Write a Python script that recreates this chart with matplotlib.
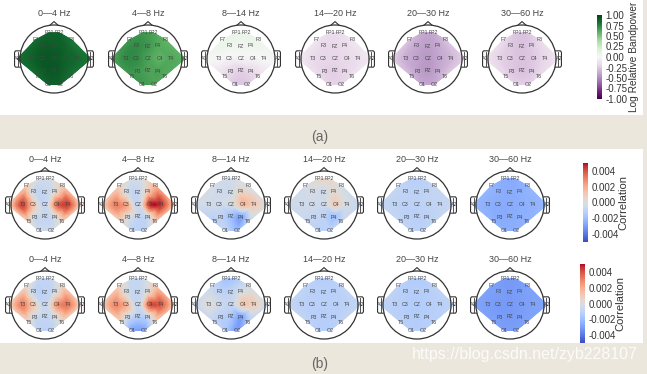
import numpy as np
import matplotlib.pyplot as plt
import matplotlib.tri as mtri
from matplotlib.patches import Rectangle, Circle

plt.rcParams['font.family'] = ['Liberation Sans', 'DejaVu Sans']

W, H = 647, 374

bands = ['0—4 Hz', '4—8 Hz', '8—14 Hz', '14—20 Hz', '20—30 Hz', '30—60 Hz']

ch_names = ['FP1', 'FP2', 'F7', 'F3', 'FZ', 'F4', 'F8', 'A1', 'T3', 'C3', 'CZ',
            'C4', 'T4', 'A2', 'T5', 'P3', 'PZ', 'P4', 'T6', 'O1', 'O2']
ch_x = [-0.15, 0.15, -0.55, -0.33, 0.0, 0.27, 0.53, -1.08, -0.66, -0.35, 0.0,
        0.35, 0.66, 1.08, -0.48, -0.31, 0.0, 0.29, 0.49, -0.17, 0.17]
ch_y = [0.77, 0.77, 0.56, 0.39, 0.38, 0.41, 0.56, 0.0, 0.0, 0.0, 0.0,
        0.0, 0.0, 0.0, -0.5, -0.37, -0.33, -0.37, -0.5, -0.75, -0.75]

# (a) log relative bandpower per band
bandpower = [
    [0.88, 0.88, 0.85, 0.9, 0.9, 0.88, 0.8, 0.82, 0.88, 0.92, 0.92,
     0.88, 0.85, 0.8, 0.85, 0.9, 0.92, 0.88, 0.82, 0.88, 0.88],
    [0.68, 0.64, 0.68, 0.72, 0.68, 0.62, 0.58, 0.62, 0.72, 0.72, 0.64,
     0.58, 0.62, 0.58, 0.68, 0.68, 0.64, 0.64, 0.62, 0.68, 0.64],
    [0.08, 0.08, 0.07, 0.05, 0.04, 0.05, 0.06, 0.02, 0.0, -0.03, -0.03,
     -0.03, 0.0, 0.02, -0.15, -0.17, -0.2, -0.17, -0.14, -0.25, -0.25],
    [-0.14, -0.14, -0.1, -0.16, -0.17, -0.14, -0.1, -0.07, -0.15, -0.18, -0.18,
     -0.16, -0.13, -0.07, -0.15, -0.2, -0.21, -0.18, -0.13, -0.2, -0.2],
    [-0.38, -0.38, -0.28, -0.38, -0.42, -0.38, -0.28, -0.2, -0.35, -0.4, -0.44,
     -0.38, -0.32, -0.2, -0.32, -0.4, -0.44, -0.38, -0.28, -0.38, -0.38],
    [-0.26, -0.26, -0.16, -0.24, -0.27, -0.24, -0.16, -0.08, -0.2, -0.24, -0.27,
     -0.24, -0.17, -0.08, -0.17, -0.24, -0.27, -0.24, -0.17, -0.21, -0.21],
]

# (b) correlation, first row
corr_top = [
    [-0.0003, -0.0003, 0.001, -0.0005, -0.0008, 0.0, 0.001, 0.0003, 0.0042, 0.0012, -0.0008,
     0.0035, 0.0042, 0.0003, 0.0005, -0.0005, -0.0008, -0.0003, 0.0005, -0.0005, -0.0005],
    [-0.0003, 0.0, 0.0008, -0.0003, -0.0008, 0.0008, 0.0018, 0.0005, 0.003, 0.0022, -0.0008,
     0.0045, 0.0045, 0.0008, 0.0005, 0.0, -0.0008, -0.0005, 0.0008, -0.001, -0.001],
    [-0.0005, -0.0003, -0.0003, -0.0005, -0.0005, 0.0005, -0.0003, -0.0003, -0.0005, -0.0005, -0.0003,
     0.0015, 0.001, -0.0003, -0.0012, -0.001, -0.0018, -0.0028, -0.001, -0.0008, -0.002],
    [0.0005, 0.0005, -0.0003, -0.0003, -0.0005, 0.0003, -0.0003, -0.0005, -0.0005, -0.0005, -0.0005,
     0.0008, -0.0003, -0.0008, -0.0008, -0.0008, -0.001, -0.0018, -0.0008, -0.0012, -0.001],
    [-0.0012, -0.0012, -0.0009, -0.001, -0.0011, -0.001, -0.0009, -0.0008, -0.001, -0.0011, -0.0011,
     -0.001, -0.0009, -0.0008, -0.0009, -0.0011, -0.0012, -0.0011, -0.0009, -0.0011, -0.0011],
    [-0.0026, -0.0026, -0.0023, -0.0025, -0.0026, -0.0025, -0.0023, -0.0022, -0.0025, -0.0026, -0.0026,
     -0.0025, -0.0024, -0.0022, -0.0024, -0.0026, -0.0026, -0.0025, -0.0024, -0.0025, -0.0025],
]

# (b) correlation, second row
corr_bottom = [
    [-0.0008, -0.0008, 0.0005, -0.0008, -0.001, -0.0005, 0.0008, 0.0003, 0.003, 0.001, -0.0008,
     0.0025, 0.0032, 0.0003, 0.0003, -0.0005, -0.0008, -0.0003, 0.0003, -0.001, -0.001],
    [-0.0008, -0.0005, 0.0008, -0.0003, -0.0008, 0.0, 0.0012, 0.0006, 0.0028, 0.0018, -0.0008,
     0.0038, 0.0038, 0.0008, 0.0003, -0.0005, -0.0012, -0.0008, 0.0003, -0.0028, -0.0028],
    [-0.0018, -0.0015, -0.0008, -0.001, -0.001, -0.0003, -0.0005, -0.0008, 0.0, -0.0005, -0.0008,
     0.001, 0.0008, -0.0008, -0.001, -0.0012, -0.0015, -0.0028, -0.0015, -0.0015, -0.003],
    [-0.0013, -0.0013, -0.001, -0.0012, -0.0012, -0.0012, -0.001, -0.0008, -0.0011, -0.0012, -0.0012,
     -0.0012, -0.0011, -0.0008, -0.001, -0.0012, -0.0013, -0.0012, -0.001, -0.0013, -0.0013],
    [-0.0014, -0.0014, -0.0011, -0.0013, -0.0013, -0.0013, -0.0011, -0.001, -0.0012, -0.0013, -0.0014,
     -0.0013, -0.0012, -0.001, -0.0012, -0.0013, -0.0014, -0.0013, -0.0012, -0.0013, -0.0013],
    [-0.0031, -0.0031, -0.0029, -0.003, -0.0031, -0.003, -0.0029, -0.0028, -0.003, -0.0031, -0.0031,
     -0.003, -0.0029, -0.0028, -0.0029, -0.003, -0.0031, -0.003, -0.0029, -0.003, -0.003],
]

BEIGE = '#ebe7dd'
LINE = '#333333'

fig = plt.figure(figsize=(W / 100, H / 100), dpi=100, facecolor=BEIGE)


def px_rect(x, y, w, h):
    return [x / W, 1 - (y + h) / H, w / W, h / H]


# white panels, kept behind the axes
for (x0, y0, w0, h0) in [(0, 0, 643, 115), (0, 149, 643, 194)]:
    fig.patches.append(Rectangle((x0 / W, 1 - (y0 + h0) / H), w0 / W, h0 / H,
                                 transform=fig.transFigure, facecolor='white',
                                 edgecolor='none', zorder=-10))

tri = mtri.Triangulation(ch_x, ch_y)
refiner = mtri.UniformTriRefiner(tri)


def head(cx, cy, vals, title, cmap, vmin, vmax, r=34):
    ax = fig.add_axes(px_rect(cx - 1.25 * r, cy - 1.25 * r, 2.5 * r, 2.5 * r))
    ax.set_xlim(-1.25, 1.25)
    ax.set_ylim(-1.25, 1.25)
    ax.set_aspect('equal')
    ax.axis('off')
    interp = mtri.CubicTriInterpolator(tri, vals, kind='geom')
    tri_f, z_f = refiner.refine_field(vals, triinterpolator=interp, subdiv=4)
    pc = ax.tripcolor(tri_f, z_f, shading='gouraud', cmap=cmap, vmin=vmin, vmax=vmax)
    ax.add_patch(Circle((0, 0), 1.0, fill=False, ec=LINE, lw=0.9))
    # nose
    ax.plot([-0.12, 0, 0.12], [0.993, 1.1, 0.993], color=LINE, lw=0.8)
    # ears
    for s in (-1, 1):
        ax.plot([s * 0.99, s * 1.13, s * 1.16, s * 1.16, s * 1.13, s * 0.99],
                [0.24, 0.24, 0.2, -0.2, -0.24, -0.24], color=LINE, lw=0.8)
        ax.plot([s * 1.07, s * 1.07], [0.2, -0.2], color=LINE, lw=0.6)
    for nm, x, y in zip(ch_names, ch_x, ch_y):
        ax.text(x, y, nm, fontsize=3.8, ha='center', va='center', color='#444444')
    ax.text(0, 1.33, title, fontsize=6.5, ha='center', va='center', color='#444444',
            clip_on=False)
    return pc


# (a)
xs_a = [54, 148, 241, 335, 428, 522]
for i, b in enumerate(bands):
    pc_a = head(xs_a[i], 59, bandpower[i], b, 'PRGn', -1, 1)

# (b)
xs_b = [45, 138, 231, 324, 417, 510]
for i, b in enumerate(bands):
    pc_b1 = head(xs_b[i], 205, corr_top[i], b, 'coolwarm', -0.005, 0.005)
for i, b in enumerate(bands):
    pc_b2 = head(xs_b[i], 305, corr_bottom[i], b, 'coolwarm', -0.005, 0.005)


def cbar(pc, rect, ticks, fmt, label, size, pad):
    cax = fig.add_axes(px_rect(*rect))
    cb = fig.colorbar(pc, cax=cax, ticks=ticks, format=fmt)
    cb.outline.set_visible(False)
    cax.tick_params(length=0, pad=2.5, labelsize=7, labelcolor='#333333')
    cb.set_label(label, fontsize=size, color='#333333', labelpad=pad)
    return cb


cbar(pc_a, (597, 15, 5, 84), np.arange(-1, 1.01, 0.25), '%.2f',
     'Log Relative Bandpower', 7.3, 1)
corr_ticks = [-0.004, -0.002, 0.0, 0.002, 0.004]
cbar(pc_b1, (583, 163, 5, 79), corr_ticks, '%.3f', 'Correlation', 8, 0)
cbar(pc_b2, (580, 264, 5, 79), corr_ticks, '%.3f', 'Correlation', 8, 0)

fig.text(320 / W, 1 - 137 / H, '(a)', fontsize=10, color='#666666', ha='center', va='center')
fig.text(320 / W, 1 - 364 / H, '(b)', fontsize=10, color='#666666', ha='center', va='center')
fig.text(638 / W, 1 - 355 / H, 'https://blog.csdn.net/zyb228107', fontsize=11.5,
         color='white', alpha=0.85, ha='right', va='center')

fig.savefig('out.png', dpi=100, facecolor=BEIGE)
